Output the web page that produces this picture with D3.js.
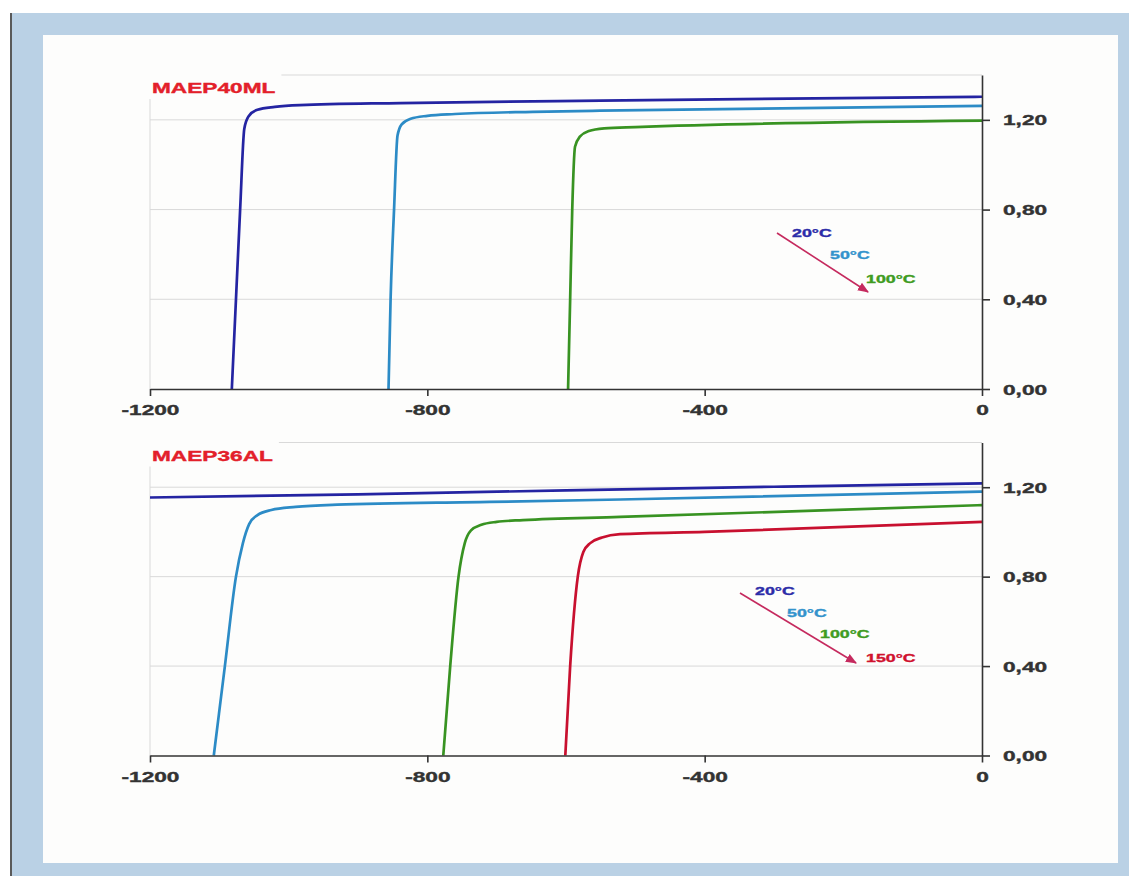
<!DOCTYPE html>
<html>
<head>
<meta charset="utf-8">
<script src="https://cdn.jsdelivr.net/npm/d3@7"></script>
<style>
  html, body { margin:0; padding:0; background:#ffffff; }
  svg { display:block; }
  .lbl { font-family:"Liberation Sans", Arial, sans-serif; font-weight:bold; stroke-width:0.35px; }
</style>
</head>
<body>
<div id="chart"></div>
<script>
// ---- data ----
var xTicks = [-1200, -800, -400, 0];
var yTicks = [0, 0.4, 0.8, 1.2];
var titles = ["MAEP40ML", "MAEP36AL"];
var temps40 = ["20°C", "50°C", "100°C"];
var temps36 = ["20°C", "50°C", "100°C", "150°C"];

// MAEP40ML
var m40_20 = [[-1082,0],[-1076,0.4],[-1070,0.8],[-1064,1.16],[-1058,1.215],[-1045,1.245],[-1020,1.258],[-984,1.266],[-839,1.275],[-550,1.286],[0,1.303]];
var m40_50 = [[-856,0],[-853,0.4],[-848,0.8],[-843,1.13],[-837,1.18],[-824,1.205],[-800,1.218],[-760,1.226],[-648,1.236],[-551,1.241],[0,1.262]];
var m40_100 = [[-597,0],[-594,0.4],[-591,0.8],[-587,1.08],[-580,1.125],[-567,1.15],[-545,1.162],[-500,1.168],[0,1.197]];

// MAEP36AL
var m36_20 = [[-1200,1.154],[-900,1.168],[-600,1.186],[-300,1.202],[0,1.217]];
var m36_50 = [[-1108,0],[-1092,0.4],[-1076,0.8],[-1066,0.95],[-1057,1.035],[-1045,1.075],[-1025,1.098],[-990,1.112],[-930,1.122],[-710,1.134],[-522,1.145],[0,1.18]];
var m36_100 = [[-777,0],[-767,0.4],[-755,0.8],[-746,0.95],[-737,1.007],[-722,1.032],[-700,1.045],[-662,1.053],[-522,1.067],[0,1.12]];
var m36_150 = [[-601,0],[-594,0.4],[-583,0.8],[-575,0.91],[-565,0.95],[-548,0.975],[-522,0.99],[-400,1.0],[0,1.045]];

var colors = ["#2424a2", "#2c8bc6", "#389322", "#c8102f"];
var legendColors = ["#2c2ca8", "#3393cc", "#3f9c22", "#d0122e"];

// ---- layout ----
var W = 1129, H = 876;
var sx = 1.62; // the picture's text is stretched wide

var svg = d3.select("#chart").append("svg")
    .attr("width", W).attr("height", H);

// frame
svg.append("rect").attr("x",12).attr("y",13).attr("width",W-12).attr("height",H-13).attr("fill","#bad1e5");
svg.append("rect").attr("x",10).attr("y",13).attr("width",2).attr("height",H-13).attr("fill","#5a5a5a");
svg.append("rect").attr("x",43).attr("y",35).attr("width",1118-43).attr("height",863-35).attr("fill","#fdfdfc");

var loc = d3.formatLocale({decimal:",", thousands:".", grouping:[3], currency:["",""], minus:"-"});
var fmtY = loc.format(".2f"), fmtX = loc.format("d");

function stretch(sel, x, y){
    sel.attr("x",0).attr("y",0).attr("dy",null)
        .attr("transform","translate("+x+","+y+") scale("+sx+",1)");
}

var panels = [
    {title:titles[0], top:75, bottom:389, series:[m40_20,m40_50,m40_100], temps:temps40,
     arrow:[[777,233],[868,292]], legend:[[792,237],[830,259],[866,283]]},
    {title:titles[1], top:442.5, bottom:755.5, series:[m36_20,m36_50,m36_100,m36_150], temps:temps36,
     arrow:[[740,593],[856,663]], legend:[[755,595],[787,617],[820,638],[866,662]]}
];

svg.append("defs").append("marker")
    .attr("id","arr").attr("viewBox","0 0 10 10").attr("refX",9).attr("refY",5)
    .attr("markerWidth",7).attr("markerHeight",7).attr("orient","auto")
  .append("path").attr("d","M0,1 L10,5 L0,9 z").attr("fill","#c52a5e");

panels.forEach(function(p){
    var x = d3.scaleLinear().domain([-1200,0]).range([150,982]);
    var y = d3.scaleLinear().domain([0,1.4]).range([p.bottom,p.top]);
    var g = svg.append("g");

    // grid
    g.selectAll(".grid").data(yTicks.slice(1).concat([1.4])).enter().append("line")
        .attr("x1",x(-1200)).attr("x2",x(0))
        .attr("y1",function(d){return y(d);}).attr("y2",function(d){return y(d);})
        .attr("stroke","#d9d9d9").attr("stroke-width",1);
    g.append("line").attr("x1",x(-1200)).attr("x2",x(-1200)).attr("y1",y(1.4)).attr("y2",y(0))
        .attr("stroke","#d9d9d9").attr("stroke-width",1);

    // title with a white box over the grid
    var t = g.append("text").attr("class","lbl").text(p.title)
        .attr("fill","#e3202a").attr("stroke","#e3202a").style("font-size","14px");
    stretch(t, 152, p.top + 18);
    var bb = t.node().getBBox();
    g.insert("rect", "text").attr("x",146).attr("y",p.top-6)
        .attr("width",bb.width*sx+12).attr("height",30).attr("fill","#fdfdfc");

    // curves
    var line = d3.line().x(function(d){return x(d[0]);}).y(function(d){return y(d[1]);})
        .curve(d3.curveMonotoneX);
    g.selectAll(".curve").data(p.series).enter().append("path")
        .attr("d", line).attr("fill","none")
        .attr("stroke", function(d,i){return colors[i];})
        .attr("stroke-width",2.7).attr("stroke-linejoin","round");

    // axes
    var ax = g.append("g").attr("transform","translate(0,"+y(0)+")")
        .call(d3.axisBottom(x).tickValues(xTicks).tickFormat(fmtX).tickSize(7).tickSizeOuter(0));
    var ay = g.append("g").attr("transform","translate("+x(0)+",0)")
        .call(d3.axisRight(y).tickValues(yTicks).tickFormat(fmtY).tickSize(8).tickSizeOuter(0));
    [ax, ay].forEach(function(a){
        a.select(".domain").attr("stroke","#333").attr("stroke-width",1.6);
        a.selectAll(".tick line").attr("stroke","#333").attr("stroke-width",1.6);
        a.selectAll("text").attr("class","lbl").attr("fill","#333").attr("stroke","#333")
            .style("font-size","14px").attr("font-family",null).attr("font-size",null);
    });
    ax.selectAll(".tick text").each(function(){ stretch(d3.select(this), 0, 26); });
    ay.selectAll(".tick text").attr("text-anchor","start")
        .each(function(){ stretch(d3.select(this), 21, 5); });

    // legend arrow + labels
    g.append("line")
        .attr("x1",p.arrow[0][0]).attr("y1",p.arrow[0][1])
        .attr("x2",p.arrow[1][0]).attr("y2",p.arrow[1][1])
        .attr("stroke","#c52a5e").attr("stroke-width",1.6).attr("marker-end","url(#arr)");
    p.temps.forEach(function(s,i){
        var lt = g.append("text").attr("class","lbl").text(s)
            .attr("fill", legendColors[i]).attr("stroke", legendColors[i]).style("font-size","11px");
        stretch(lt, p.legend[i][0], p.legend[i][1]);
    });
});
</script>
</body>
</html>
